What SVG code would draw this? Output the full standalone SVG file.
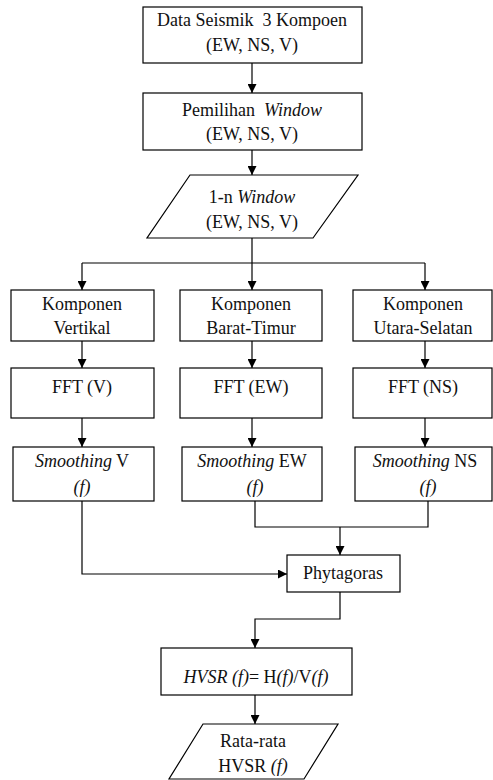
<svg xmlns="http://www.w3.org/2000/svg" width="493" height="780" viewBox="0 0 493 780">
<defs>
<marker id="ah" markerUnits="userSpaceOnUse" markerWidth="9" markerHeight="9" refX="9" refY="4.5" orient="auto">
<path d="M0,0 L9,4.5 L0,9 z" fill="#000"/>
</marker>
<style>
.n{fill:#fff;stroke:#000;stroke-width:1.2}
.t{font-family:"Liberation Serif","Times New Roman",serif;font-size:18px;fill:#111;text-anchor:middle}
.i{font-style:italic}
.c{fill:none;stroke:#000;stroke-width:1.2}
.a{marker-end:url(#ah)}
</style>
</defs>
<rect width="493" height="780" fill="#fff"/>
<g id="connectors">
<path class="c a" d="M252,63 V93"/>
<path class="c a" d="M252,150 V175"/>
<path class="c" d="M252,238 V263 M82,263 H425"/>
<path class="c a" d="M82,263 V290"/>
<path class="c a" d="M252,263 V290"/>
<path class="c a" d="M425,263 V290"/>
<path class="c a" d="M82,341 V368"/>
<path class="c a" d="M252,341 V368"/>
<path class="c a" d="M425,341 V368"/>
<path class="c a" d="M82,418 V447"/>
<path class="c a" d="M252,418 V447"/>
<path class="c a" d="M425,418 V447"/>
<path class="c a" d="M82,501 V574 H287"/>
<path class="c" d="M255,501 V527 H428 V501"/>
<path class="c a" d="M340,527 V555"/>
<path class="c a" d="M340,592 V619 H255 V648"/>
<path class="c a" d="M255,695 V724"/>
</g>
<g id="data-seismik">
<rect class="n" x="143" y="7" width="219" height="56"/>
<text class="t" x="252" y="26">Data Seismik&#160; 3 Kompoen</text>
<text class="t" x="252" y="51">(EW, NS, V)</text>
</g>
<g id="pemilihan-window">
<rect class="n" x="143" y="93" width="219" height="57"/>
<text class="t" x="252" y="116">Pemilihan&#160; <tspan class="i">Window</tspan></text>
<text class="t" x="252" y="140">(EW, NS, V)</text>
</g>
<g id="n-window">
<polygon class="n" points="190,175 358,175 313,238 147,238"/>
<text class="t" x="252" y="203">1-n <tspan class="i">Window</tspan></text>
<text class="t" x="252" y="228">(EW, NS, V)</text>
</g>
<g id="komponen-vertikal">
<rect class="n" x="11" y="290" width="143" height="51"/>
<text class="t" x="82" y="310">Komponen</text>
<text class="t" x="82" y="334">Vertikal</text>
</g>
<g id="komponen-barat-timur">
<rect class="n" x="180" y="290" width="142" height="51"/>
<text class="t" x="251" y="310">Komponen</text>
<text class="t" x="251" y="334">Barat-Timur</text>
</g>
<g id="komponen-utara-selatan">
<rect class="n" x="353" y="290" width="139" height="51"/>
<text class="t" x="423" y="310">Komponen</text>
<text class="t" x="423" y="334">Utara-Selatan</text>
</g>
<g id="fft-v">
<rect class="n" x="11" y="368" width="143" height="50"/>
<text class="t" x="82" y="393">FFT (V)</text>
</g>
<g id="fft-ew">
<rect class="n" x="180" y="368" width="142" height="50"/>
<text class="t" x="251" y="393">FFT (EW)</text>
</g>
<g id="fft-ns">
<rect class="n" x="353" y="368" width="139" height="50"/>
<text class="t" x="423" y="393">FFT (NS)</text>
</g>
<g id="smoothing-v">
<rect class="n" x="13" y="447" width="141" height="54"/>
<text class="t" x="82" y="467"><tspan class="i">Smoothing</tspan> V</text>
<text class="t i" x="82" y="493">(f)</text>
</g>
<g id="smoothing-ew">
<rect class="n" x="182" y="447" width="140" height="54"/>
<text class="t" x="252" y="467"><tspan class="i">Smoothing</tspan> EW</text>
<text class="t i" x="255" y="493">(f)</text>
</g>
<g id="smoothing-ns">
<rect class="n" x="355" y="447" width="137" height="54"/>
<text class="t" x="425" y="467"><tspan class="i">Smoothing</tspan> NS</text>
<text class="t i" x="428" y="493">(f)</text>
</g>
<g id="phytagoras">
<rect class="n" x="287" y="555" width="113" height="37"/>
<text class="t" x="343" y="579">Phytagoras</text>
</g>
<g id="hvsr">
<rect class="n" x="161" y="648" width="191" height="47"/>
<text class="t" x="256" y="683"><tspan class="i">HVSR (f)</tspan>= H<tspan class="i">(f)</tspan>/V<tspan class="i">(f)</tspan></text>
</g>
<g id="rata-rata">
<polygon class="n" points="203,724 338,724 304,779 169,779"/>
<text class="t" x="253" y="747">Rata-rata</text>
<text class="t" x="253" y="772">HVSR <tspan class="i">(f)</tspan></text>
</g>
</svg>
